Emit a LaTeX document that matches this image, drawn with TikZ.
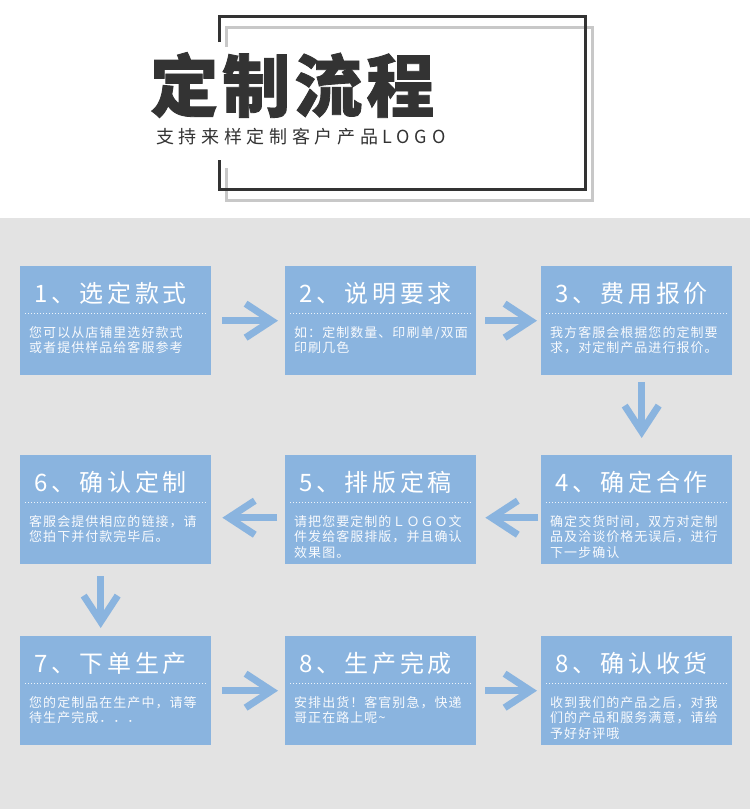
\documentclass[tikz,border=0pt]{standalone}
\usepackage{fontspec}
\usetikzlibrary{positioning,arrows.meta}
\newfontfamily\cjk{Noto Sans CJK SC}
\newfontfamily\cjkhead{Noto Sans CJK SC}[LetterSpace=6, BoldFeatures={FakeBold=1.2}]
\newfontfamily\cjksub{Noto Sans CJK SC}[LetterSpace=26]
\newfontfamily\cjktitle{Noto Sans CJK SC}[LetterSpace=16]
\newfontfamily\cjkdesc{Noto Sans CJK SC}[LetterSpace=8]
\definecolor{stepblue}{HTML}{8AB4DF}
\definecolor{panelgray}{HTML}{E3E3E3}
\definecolor{ink}{HTML}{333333}
\definecolor{framegray}{HTML}{C8C8C8}

% one step card: name, x, y, title, text
\newcommand{\stepcard}[5]{%
  \node[stepbox, anchor=north west] (#1) at (#2,#3) {};
  \node[steptitle] (#1-title) at ([xshift=-5pt,yshift=-27pt]#1.north) {#4};
  \draw[stepdots] ([xshift=5pt,yshift=-47pt]#1.north west) -- ([xshift=-5pt,yshift=-47pt]#1.north east);
  \node[stepdesc] (#1-desc) at ([xshift=9pt,yshift=-60pt]#1.north west) {#5};
}

\begin{document}
\begin{tikzpicture}[
  x=1pt, y=-1pt,
  stepbox/.style={fill=stepblue, minimum width=191pt, minimum height=109pt, inner sep=0pt},
  steptitle/.style={text=white, inner sep=0pt, font=\cjktitle\fontsize{24}{26}\selectfont},
  stepdesc/.style={text=white!94!stepblue, inner sep=0pt, anchor=north west, align=left,
                   font=\cjkdesc\fontsize{13}{15.5}\selectfont},
  stepdots/.style={white!85!stepblue, line width=1pt, dash pattern=on 1pt off 2pt},
  flowarrow/.style={draw=stepblue, line width=7pt, -{Straight Barb[length=26pt, width=34pt]}}
]
  \useasboundingbox (0,0) rectangle (750,809);
  \fill[white] (0,0) rectangle (750,218);
  \fill[panelgray] (0,218) rectangle (750,809);

  % heading frame
  \draw[framegray, line width=3pt] (226,47) -- (226,27) -- (592,27) -- (592,200) -- (226,200) -- (226,168);
  \draw[ink, line width=3pt] (219,42) -- (219,16) -- (585,16) -- (585,189) -- (219,189) -- (219,160);
  \node[anchor=west, inner sep=0pt, text=ink, font=\cjkhead\bfseries\fontsize{68}{70}\selectfont] (heading) at (150,85) {定制流程};
  \node[anchor=west, inner sep=0pt, text=ink, font=\cjksub\fontsize{18}{20}\selectfont] (subheading) at (156,137) {支持来样定制客户产品LOGO};

  % cards
  \stepcard{s1}{20}{266}{1、选定款式}{您可以从店铺里选好款式\\或者提供样品给客服参考}
  \stepcard{s2}{285}{266}{2、说明要求}{如：定制数量、印刷单/双面\\印刷几色}
  \stepcard{s3}{541}{266}{3、费用报价}{我方客服会根据您的定制要\\求，对定制产品进行报价。}
  \stepcard{s4}{541}{455}{4、确定合作}{确定交货时间，双方对定制\\品及洽谈价格无误后，进行\\下一步确认}
  \stepcard{s5}{285}{455}{5、排版定稿}{请把您要定制的ＬＯＧＯ文\\件发给客服排版，并且确认\\效果图。}
  \stepcard{s6}{20}{455}{6、确认定制}{客服会提供相应的链接，请\\您拍下并付款完毕后。}
  \stepcard{s7}{20}{636}{7、下单生产}{您的定制品在生产中，请等\\待生产完成．．．}
  \stepcard{s8}{285}{636}{8、生产完成}{安排出货！客官别急，快递\\哥正在路上呢\textasciitilde}
  \stepcard{s9}{541}{636}{8、确认收货}{收到我们的产品之后，对我\\们的产品和服务满意，请给\\予好好评哦}

  % flow
  \draw[flowarrow, shorten <=11pt, shorten >=7pt] (s1) -- (s2);
  \draw[flowarrow, shorten <=9pt, shorten >=4pt] (s2) -- (s3);
  \draw[flowarrow, shorten <=7pt, shorten >=17pt] ([xshift=5pt]s3.south) -- ([xshift=5pt]s4.north);
  \draw[flowarrow, shorten <=3pt, shorten >=9pt] ([yshift=-8pt]s4.west) -- ([yshift=-8pt]s5.east);
  \draw[flowarrow, shorten <=8pt, shorten >=11pt] ([yshift=-8pt]s5.west) -- ([yshift=-8pt]s6.east);
  \draw[flowarrow, shorten <=12pt, shorten >=8pt] ([xshift=-15pt]s6.south) -- ([xshift=-15pt]s7.north);
  \draw[flowarrow, shorten <=11pt, shorten >=7pt] (s7) -- (s8);
  \draw[flowarrow, shorten <=9pt, shorten >=4pt] (s8) -- (s9);
\end{tikzpicture}
\end{document}
